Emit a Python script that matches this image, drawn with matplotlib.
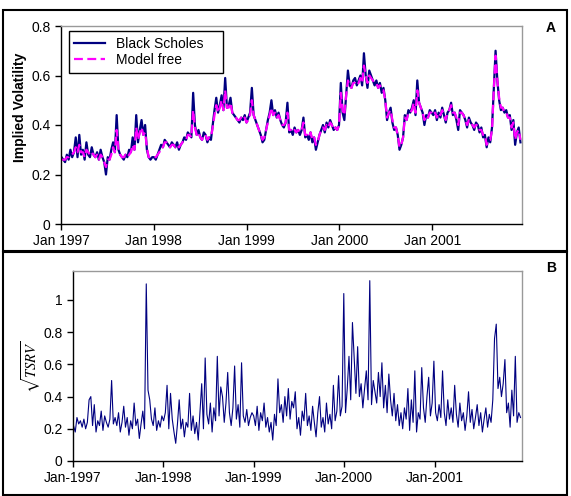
import numpy as np
import pandas as pd
import matplotlib
matplotlib.use('Agg')
import matplotlib.pyplot as plt
import matplotlib.dates as mdates
from matplotlib.patches import Rectangle

plt.rcParams['font.family'] = ['Liberation Sans', 'DejaVu Sans']
plt.rcParams['mathtext.fontset'] = 'stix'

# weekly implied volatility, Black Scholes
bs_1997 = [0.27,0.26,0.25,0.28,0.26,0.30,0.27,0.29,0.35,0.27,
           0.36,0.28,0.30,0.26,0.33,0.28,0.27,0.31,0.28,0.27,
           0.29,0.26,0.30,0.27,0.25,0.20,0.27,0.26,0.30,0.33,
           0.29,0.44,0.30,0.28,0.27,0.26,0.28,0.27,0.30,0.29,
           0.35,0.30,0.44,0.33,0.38,0.42,0.36,0.40,0.30,0.27,
           0.26,0.27]
bs_1998 = [0.27,0.26,0.28,0.30,0.32,0.31,0.34,0.33,0.32,0.31,
           0.33,0.32,0.31,0.33,0.30,0.32,0.33,0.35,0.34,0.37,
           0.36,0.35,0.53,0.40,0.36,0.38,0.35,0.34,0.37,0.36,
           0.33,0.35,0.34,0.40,0.46,0.51,0.45,0.48,0.52,0.46,
           0.59,0.47,0.48,0.51,0.45,0.44,0.43,0.42,0.41,0.43,
           0.42,0.44]
bs_1999 = [0.41,0.43,0.45,0.55,0.44,0.42,0.40,0.38,0.36,0.33,
           0.34,0.38,0.42,0.45,0.50,0.44,0.46,0.43,0.45,0.42,
           0.40,0.39,0.41,0.49,0.37,0.38,0.36,0.39,0.37,0.38,
           0.36,0.38,0.43,0.35,0.36,0.34,0.37,0.33,0.35,0.30,
           0.33,0.36,0.38,0.40,0.37,0.41,0.39,0.42,0.40,0.38,
           0.39,0.38]
bs_2000 = [0.40,0.57,0.45,0.42,0.52,0.62,0.56,0.55,0.58,0.59,
           0.56,0.58,0.60,0.56,0.69,0.60,0.55,0.62,0.60,0.58,
           0.56,0.58,0.55,0.57,0.53,0.55,0.50,0.42,0.45,0.47,
           0.41,0.38,0.39,0.36,0.30,0.32,0.35,0.44,0.42,0.46,
           0.45,0.47,0.50,0.44,0.58,0.49,0.47,0.45,0.40,0.44,
           0.43,0.46]
bs_2001 = [0.45,0.44,0.46,0.42,0.45,0.43,0.47,0.44,0.41,0.45,
           0.46,0.49,0.44,0.45,0.42,0.38,0.46,0.45,0.44,0.42,
           0.39,0.43,0.41,0.40,0.38,0.41,0.40,0.37,0.39,0.35,
           0.36,0.31,0.35,0.33,0.39,0.55,0.70,0.58,0.50,0.46,
           0.47,0.45,0.46,0.43,0.44,0.38,0.42,0.32,0.37,0.39,
           0.33]

# weekly implied volatility, model free
mf_1997 = [0.26,0.26,0.26,0.27,0.27,0.28,0.28,0.29,0.31,0.29,
           0.32,0.29,0.29,0.27,0.30,0.29,0.28,0.29,0.28,0.27,
           0.28,0.26,0.28,0.27,0.25,0.23,0.26,0.26,0.28,0.31,
           0.29,0.38,0.30,0.28,0.27,0.27,0.28,0.27,0.28,0.29,
           0.32,0.30,0.39,0.34,0.37,0.39,0.36,0.37,0.31,0.27,
           0.27,0.27]
mf_1998 = [0.27,0.27,0.28,0.29,0.31,0.31,0.33,0.33,0.32,0.31,
           0.32,0.32,0.31,0.32,0.31,0.32,0.33,0.34,0.34,0.36,
           0.36,0.35,0.46,0.39,0.36,0.37,0.35,0.34,0.36,0.36,
           0.34,0.35,0.35,0.39,0.44,0.48,0.45,0.47,0.50,0.46,
           0.54,0.47,0.47,0.49,0.45,0.44,0.43,0.42,0.42,0.43,
           0.42,0.43]
mf_1999 = [0.41,0.42,0.44,0.50,0.44,0.42,0.40,0.38,0.36,0.34,
           0.35,0.38,0.41,0.44,0.47,0.44,0.45,0.43,0.44,0.42,
           0.40,0.40,0.41,0.45,0.38,0.38,0.37,0.38,0.37,0.38,
           0.37,0.38,0.41,0.36,0.36,0.35,0.37,0.34,0.35,0.32,
           0.33,0.36,0.38,0.39,0.38,0.40,0.39,0.41,0.40,0.38,
           0.39,0.38]
mf_2000 = [0.40,0.53,0.46,0.44,0.52,0.58,0.56,0.55,0.57,0.57,
           0.56,0.57,0.59,0.57,0.64,0.60,0.57,0.60,0.59,0.58,
           0.57,0.57,0.55,0.56,0.54,0.54,0.50,0.43,0.45,0.46,
           0.42,0.39,0.39,0.36,0.31,0.32,0.35,0.43,0.42,0.45,
           0.45,0.46,0.49,0.45,0.54,0.49,0.47,0.45,0.42,0.44,
           0.43,0.45]
mf_2001 = [0.45,0.44,0.45,0.43,0.45,0.44,0.46,0.44,0.42,0.45,
           0.46,0.48,0.45,0.45,0.43,0.40,0.45,0.45,0.44,0.42,
           0.40,0.42,0.41,0.40,0.39,0.40,0.40,0.38,0.38,0.36,
           0.36,0.32,0.34,0.34,0.38,0.54,0.68,0.58,0.51,0.47,
           0.47,0.45,0.45,0.43,0.43,0.39,0.41,0.34,0.37,0.38,
           0.34]

# weekly sqrt(TSRV)
rv_1997 = [0.22,0.18,0.27,0.23,0.25,0.21,0.26,0.20,0.24,0.38,
           0.40,0.22,0.35,0.18,0.25,0.22,0.31,0.19,0.28,0.24,
           0.21,0.26,0.50,0.23,0.27,0.22,0.30,0.18,0.24,0.34,
           0.21,0.27,0.16,0.25,0.20,0.36,0.22,0.26,0.14,0.23,
           0.31,0.20,1.10,0.44,0.38,0.26,0.22,0.33,0.19,0.25,
           0.21,0.28]
rv_1998 = [0.25,0.30,0.47,0.20,0.42,0.26,0.18,0.11,0.23,0.38,
           0.20,0.26,0.15,0.24,0.21,0.42,0.19,0.28,0.17,0.24,
           0.13,0.30,0.48,0.20,0.64,0.29,0.23,0.36,0.18,0.33,
           0.25,0.65,0.28,0.46,0.40,0.24,0.36,0.55,0.30,0.22,
           0.33,0.59,0.26,0.35,0.21,0.61,0.28,0.24,0.32,0.22,
           0.27,0.30]
rv_1999 = [0.28,0.22,0.34,0.19,0.30,0.25,0.36,0.21,0.27,0.18,
           0.24,0.13,0.29,0.22,0.51,0.30,0.35,0.24,0.40,0.28,
           0.45,0.26,0.37,0.33,0.43,0.20,0.27,0.16,0.31,0.25,
           0.42,0.22,0.28,0.19,0.34,0.24,0.15,0.30,0.40,0.21,
           0.27,0.18,0.36,0.23,0.29,0.20,0.47,0.25,0.31,0.53,
           0.28,0.34]
rv_2000 = [1.04,0.30,0.45,0.65,0.38,0.86,0.64,0.42,0.71,0.40,
           0.48,0.33,0.45,0.56,0.38,1.12,0.35,0.50,0.43,0.36,
           0.55,0.40,0.61,0.33,0.47,0.30,0.54,0.38,0.28,0.42,
           0.25,0.35,0.22,0.30,0.20,0.33,0.26,0.45,0.19,0.38,
           0.24,0.56,0.18,0.30,0.26,0.58,0.33,0.24,0.40,0.52,
           0.28,0.36]
rv_2001 = [0.62,0.30,0.25,0.35,0.27,0.56,0.30,0.22,0.38,0.26,
           0.33,0.24,0.47,0.29,0.21,0.36,0.25,0.30,0.19,0.28,
           0.43,0.24,0.32,0.20,0.27,0.35,0.22,0.30,0.18,0.26,
           0.33,0.21,0.29,0.24,0.38,0.76,0.85,0.45,0.52,0.40,
           0.48,0.63,0.30,0.36,0.21,0.44,0.28,0.65,0.24,0.30,
           0.27]

black_scholes = bs_1997 + bs_1998 + bs_1999 + bs_2000 + bs_2001
model_free = mf_1997 + mf_1998 + mf_1999 + mf_2000 + mf_2001
tsrv = rv_1997 + rv_1998 + rv_1999 + rv_2000 + rv_2001
dates = pd.date_range('1997-01-03', periods=len(black_scholes), freq='W-FRI')

navy = '#000080'
magenta = '#FF00FF'
W, H = 571, 496

fig = plt.figure(figsize=(5.71, 4.96), dpi=100)

# panel boxes
fig.patches.append(Rectangle((3/W, 1-251/H), 564/W, 241/H, transform=fig.transFigure,
                             fill=False, ec='black', lw=1.5))
fig.patches.append(Rectangle((3/W, 1-495/H), 564/W, 243/H, transform=fig.transFigure,
                             fill=False, ec='black', lw=1.5))

def style_axes(ax):
    for s in ['left', 'bottom']:
        ax.spines[s].set_color('black')
        ax.spines[s].set_linewidth(1.0)
    for s in ['top', 'right']:
        ax.spines[s].set_color('#999999')
        ax.spines[s].set_linewidth(1.0)
    ax.tick_params(direction='out', length=4, width=1, labelsize=10, colors='black')
    ax.tick_params(axis='x', pad=3)
    ax.xaxis.set_major_locator(mdates.YearLocator())
    ax.set_xlim(pd.Timestamp('1997-01-01'), pd.Timestamp('2001-12-20'))

# ---- panel A
axA = fig.add_axes([61/W, 1-224/H, 461/W, 198/H])
axA.plot(dates, black_scholes, color=navy, lw=1.6, label='Black Scholes')
axA.plot(dates, model_free, color=magenta, lw=1.6, dashes=(4, 2), label='Model free')
style_axes(axA)
axA.set_ylim(0, 0.8)
axA.set_yticks([0, 0.2, 0.4, 0.6, 0.8])
axA.set_yticklabels(['0', '0.2', '0.4', '0.6', '0.8'])
axA.xaxis.set_major_formatter(mdates.DateFormatter('%b %Y'))
leg = axA.legend(loc='upper left', bbox_to_anchor=(0.017, 0.768, 0.334, 0.207),
                 mode='expand', borderaxespad=0,
                 fontsize=10, frameon=True, fancybox=False, edgecolor='black',
                 framealpha=1, handlelength=2.2, labelspacing=0.2, borderpad=0.4)
leg.get_frame().set_linewidth(1.0)
fig.text(20/W, 1-107/H, 'Implied Volatility', rotation=90, fontsize=10,
         fontweight='bold', ha='center', va='center')
fig.text(551/W, 1-28/H, 'A', fontsize=10, fontweight='bold', ha='center', va='center')

# ---- panel B
axB = fig.add_axes([73/W, 1-461/H, 449/W, 190/H])
axB.plot(dates, tsrv, color=navy, lw=0.8)
style_axes(axB)
axB.set_ylim(0, 1.18)
axB.set_yticks([0, 0.2, 0.4, 0.6, 0.8, 1.0])
axB.set_yticklabels(['0', '0.2', '0.4', '0.6', '0.8', '1'])
axB.xaxis.set_major_formatter(mdates.DateFormatter('%b-%Y'))
fig.text(31/W, 1-367/H, r'$\sqrt{TSRV}$', rotation=90, fontsize=10.5,
         ha='center', va='center')
fig.text(551/W, 1-268/H, 'B', fontsize=10, fontweight='bold', ha='center', va='center')

fig.savefig('out.png', dpi=100)
